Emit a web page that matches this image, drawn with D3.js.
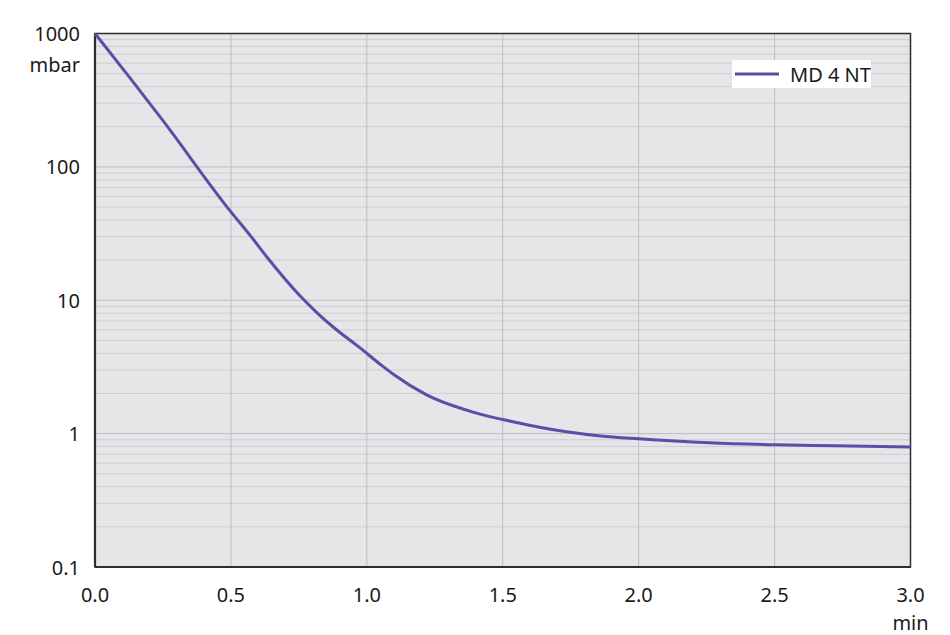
<!DOCTYPE html>
<html>
<head>
<meta charset="utf-8">
<script src="https://cdn.jsdelivr.net/npm/d3@7"></script>
<style>
html,body{margin:0;padding:0;background:#fff;}
svg{display:block;font-family:"Noto Sans",sans-serif;}
</style>
</head>
<body>
<svg id="chart" width="950" height="635"></svg>
<script>
const timeMin = [0, 0.125, 0.25, 0.5, 0.57, 0.633, 0.692, 0.754, 0.817, 0.876, 0.975, 1.05, 1.1, 1.22, 1.4, 1.56, 1.63, 1.86, 2.0, 2.26, 2.5, 2.72, 3.0];
const pressure = [1000, 475, 222, 46, 30.8, 21, 15.0, 10.8, 8.05, 6.3, 4.39, 3.3, 2.76, 1.95, 1.43, 1.2, 1.12, 0.96, 0.914, 0.853, 0.824, 0.81, 0.795];
const seriesName = "MD 4 NT";
const xTicks = [0, 0.5, 1.0, 1.5, 2.0, 2.5, 3.0];
const yTicks = [0.1, 1, 10, 100, 1000];
const yTickLabels = ["0.1", "1", "10", "100", "1000"];

const svg = d3.select("#chart");
const L = 95, R = 910.5, T = 33.5, B = 567;
const x = d3.scaleLinear().domain([0, 3]).range([L, R]);
const y = d3.scaleLog().domain([0.1, 1000]).range([B, T]);

// background
svg.append("rect").attr("x", L).attr("y", T).attr("width", R - L).attr("height", B - T).attr("fill", "#e5e6e8");

// minor horizontal grid
const minor = [];
for (let d = 0.1; d < 1000; d *= 10) for (let k = 2; k <= 9; k++) minor.push(d * k);
svg.append("g").selectAll("line").data(minor).join("line")
  .attr("x1", L).attr("x2", R).attr("y1", d => y(d)).attr("y2", d => y(d))
  .attr("stroke", "#cdced1").attr("stroke-width", 1);
// major horizontal grid
svg.append("g").selectAll("line").data(yTicks.slice(1, -1)).join("line")
  .attr("x1", L).attr("x2", R).attr("y1", d => y(d)).attr("y2", d => y(d))
  .attr("stroke", "#bbbcbf").attr("stroke-width", 1);
// vertical grid
svg.append("g").selectAll("line").data(xTicks.slice(1, -1)).join("line")
  .attr("x1", d => x(d)).attr("x2", d => x(d)).attr("y1", T).attr("y2", B)
  .attr("stroke", "#bdbec1").attr("stroke-width", 1);

// frame
svg.append("rect").attr("x", L).attr("y", T).attr("width", R - L).attr("height", B - T)
  .attr("fill", "none").attr("stroke", "#2e2e2e").attr("stroke-width", 1.5);
svg.append("line").attr("x1", L).attr("x2", L).attr("y1", T).attr("y2", B).attr("stroke", "#2e2e2e").attr("stroke-width", 2.2);
svg.append("line").attr("x1", L).attr("x2", R).attr("y1", B).attr("y2", B).attr("stroke", "#2e2e2e").attr("stroke-width", 2.2);

// series
const data = timeMin.map((t, i) => [t, pressure[i]]);
svg.append("path").datum(data)
  .attr("d", d3.line().x(d => x(d[0])).y(d => y(d[1])).curve(d3.curveMonotoneX))
  .attr("fill", "none").attr("stroke", "#5a4fa6").attr("stroke-width", 3).attr("stroke-linejoin", "round");

// y labels
svg.append("g").selectAll("text").data(yTicks).join("text")
  .attr("x", 80).attr("y", d => y(d) + 7.5).attr("text-anchor", "end")
  .attr("font-size", 20).attr("fill", "#1a1a1a").text((d, i) => yTickLabels[i]);
svg.append("text").attr("x", 80).attr("y", 72).attr("text-anchor", "end")
  .attr("font-size", 20).attr("fill", "#1a1a1a").text("mbar");

// x labels
svg.append("g").selectAll("text").data(xTicks).join("text")
  .attr("x", d => x(d)).attr("y", 602).attr("text-anchor", "middle")
  .attr("font-size", 20).attr("fill", "#1a1a1a").text(d => d.toFixed(1));
svg.append("text").attr("x", x(3)).attr("y", 630).attr("text-anchor", "middle")
  .attr("font-size", 20).attr("fill", "#1a1a1a").text("min");

// legend
const lg = svg.append("g");
lg.append("rect").attr("x", 732).attr("y", 60).attr("width", 139).attr("height", 28).attr("fill", "#fff");
lg.append("line").attr("x1", 735).attr("x2", 779).attr("y1", 74).attr("y2", 74).attr("stroke", "#5a4fa6").attr("stroke-width", 3);
lg.append("text").attr("x", 790).attr("y", 82).attr("font-size", 20).attr("fill", "#1a1a1a").text(seriesName);
</script>
</body>
</html>
